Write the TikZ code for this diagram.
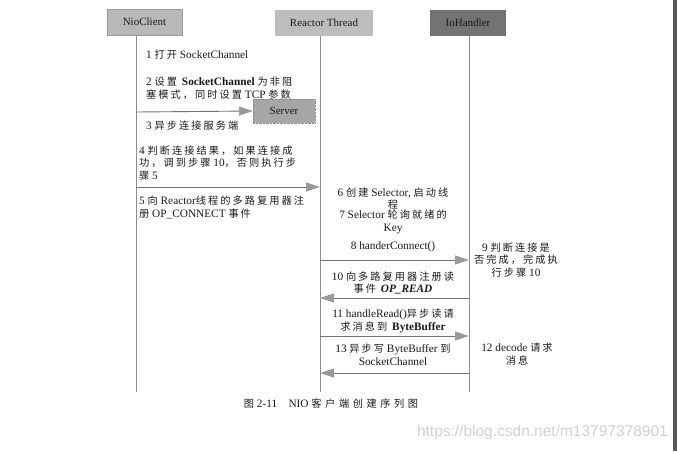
\documentclass[tikz,border=0pt]{standalone}
\usepackage{fontspec}
\usetikzlibrary{arrows.meta}
\setmainfont{Liberation Serif}
\newfontfamily\cjkf[LetterSpace=20]{Noto Sans CJK SC}
\newfontfamily\cjkcap[LetterSpace=35]{Noto Sans CJK SC}
\newfontfamily\wmfont{Liberation Sans}
\newcommand\hz[1]{{\cjkf\fontsize{10.2}{12.8}\selectfont #1}}
\newcommand\hzc[1]{{\cjkcap\fontsize{10.2}{12.8}\selectfont #1}}
\definecolor{txtc}{HTML}{1a1a1a}
\tikzset{
  hdr/.style={minimum height=26pt, inner sep=0pt, font=\fontsize{11}{12}\selectfont, text=txtc},
  life/.style={draw=black!45, line width=0.8pt},
  msg/.style={draw=black!55, line width=0.9pt, -{Triangle[length=14pt,width=9pt,color=black!40]}},
  txt/.style={inner sep=0pt, font=\fontsize{11.3}{12.8}\selectfont, text=txtc},
}
\begin{document}
\begin{tikzpicture}[x=1pt,y=-1pt]
\fill[white] (0,0) rectangle (677,451);
\useasboundingbox (0,0) rectangle (677,451);
% right edge bar
\fill[black!65] (673,0) rectangle (677,451);

% headers
\node[hdr, fill=black!28, draw=black!40, minimum width=75pt] (nio) at (144.5,22) {NioClient};
\node[hdr, fill=black!26, minimum width=98pt] (reactor) at (324,22.5) {Reactor Thread};
\node[hdr, fill=black!55, minimum width=76pt] (io) at (468,22.5) {IoHandler};

% lifelines
\coordinate (nT) at (136,35);
\coordinate (nB) at (136,392);
\coordinate (rT) at (320,35.5);
\coordinate (rB) at (320,392);
\coordinate (iT) at (469,35.5);
\coordinate (iB) at (469,392);
\draw[life] (nT) -- (nB);
\draw[life] (rT) -- (rB);
\draw[life] (iT) -- (iB);

% server
\node[hdr, minimum width=62pt, minimum height=24pt, fill=black!35, draw=black!45, densely dotted] (server) at (284,111) {Server};

% left texts
\node[txt, anchor=west] (t1) at (146,55) {1 \hz{打开} SocketChannel};
\node[txt, anchor=west, align=left] (t2) at (146,88.5) {2 \hz{设置} \textbf{SocketChannel} \hz{为非阻}\\\hz{塞模式，同时设置} TCP \hz{参数}};
\node[txt, anchor=west] (t3) at (146,126) {3 \hz{异步连接服务端}};
\node[txt, anchor=west, align=left] (t4) at (139,163) {4 \hz{判断连接结果，如果连接成}\\\hz{功，调到步骤} 10\hz{，否则执行步}\\\hz{骤} 5};
\node[txt, anchor=west, align=left] (t5) at (139,207.5) {5 \hz{向} Reactor\hz{线程的多路复用器注}\\\hz{册} OP\_CONNECT \hz{事件}};

% middle texts
\node[txt, align=center] (t6) at (393,198.5) {6 \hz{创建} Selector, \hz{启动线}\\\hz{程}};
\node[txt, align=center] (t7) at (393,222) {7 Selector \hz{轮询就绪的}\\Key};
\node[txt] (t8) at (393,247) {8 handerConnect()};
\node[txt, align=center] (t10) at (393,283) {10 \hz{向多路复用器注册读}\\\hz{事件} \textbf{\textit{OP\_READ}}};
\node[txt, align=center] (t11) at (393,321) {11 handleRead()\hz{异步读请}\\\hz{求消息到} \textbf{ByteBuffer}};
\node[txt, align=center] (t13) at (393,354.5) {13 \hz{异步写} ByteBuffer \hz{到}\\SocketChannel};

% right texts
\node[txt, align=center] (t9) at (516,260) {9 \hz{判断连接是}\\\hz{否完成，完成执}\\\hz{行步骤} 10};
\node[txt, align=center] (t12) at (517,354) {12 decode \hz{请求}\\\hz{消息}};

% messages
\coordinate (m3a) at (136,112);
\draw[msg] (m3a) -- (server.west);
\coordinate (m4a) at (136,187);
\coordinate (m4b) at (320,187);
\draw[msg] (m4a) -- (m4b);
\coordinate (m8a) at (320,260);
\coordinate (m8b) at (469,260);
\draw[msg] (m8a) -- (m8b);
\coordinate (m10a) at (469,298);
\coordinate (m10b) at (320,298);
\draw[msg] (m10a) -- (m10b);
\coordinate (m11a) at (320,336);
\coordinate (m11b) at (469,336);
\draw[msg] (m11a) -- (m11b);
\coordinate (m13a) at (469,373);
\coordinate (m13b) at (320,373);
\draw[msg] (m13a) -- (m13b);

% caption
\node[txt] (cap) at (331,404) {\hzc{图} 2-11\quad NIO \hzc{客户端创建序列图}};

% watermark
\node[inner sep=0pt, anchor=east, text=black!18, font=\wmfont\fontsize{15.5}{16}\selectfont] (wm) at (668,432) {https://blog.csdn.net/m13797378901};
\end{tikzpicture}
\end{document}
